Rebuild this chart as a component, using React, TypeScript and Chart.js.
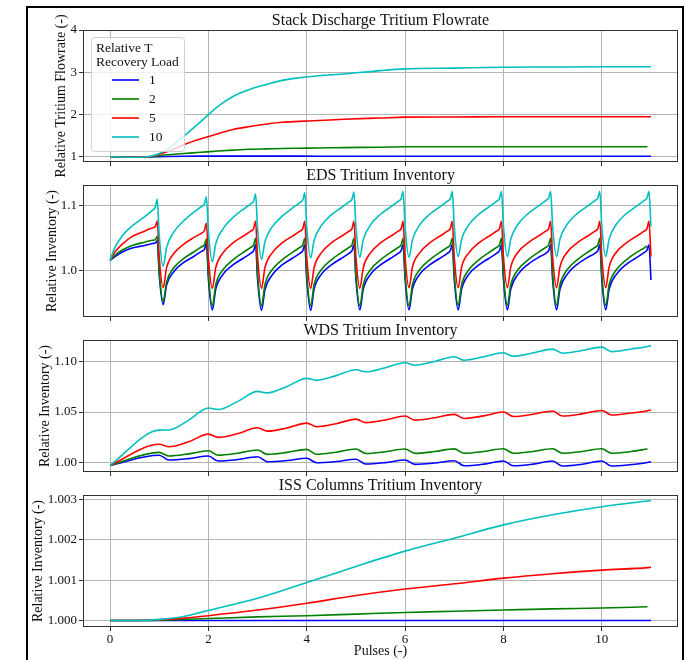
import React, { useEffect, useRef } from "react";
import { Chart, registerables } from "chart.js";

Chart.register(...registerables);

const SERIF = '"Liberation Serif", "Times New Roman", serif';

// ---------- series meta ----------
const seriesLabels = ["1", "2", "5", "10"];
const seriesColors = ["#0000ff", "#008000", "#ff0000", "#00bfbf"];
const legendTitle = ["Relative T", "Recovery Load"];
const xTitle = "Pulses (-)";

// ---------- panel 1: Stack Discharge Tritium Flowrate ----------
const flowPulses = [0, 0.5, 0.8, 1.15, 1.5, 1.85, 2.2, 2.5, 2.85, 3.2, 3.5, 3.85, 4.25, 4.75, 5.5, 6, 7, 8, 9, 10, 10.93, 11];
const flowBlue = [1.0, 0.998, 1.002, 1.01, 1.015, 1.018, 1.02, 1.02, 1.02, 1.02, 1.02, 1.018, 1.017, 1.016, 1.015, 1.015, 1.015, 1.015, 1.015, 1.015, 1.015, 1.015];
const flowGreen = [1.0, 0.997, 1.004, 1.05, 1.08, 1.11, 1.14, 1.16, 1.18, 1.19, 1.2, 1.205, 1.21, 1.22, 1.23, 1.24, 1.24, 1.24, 1.24, 1.24, 1.24, null];
const flowRed = [1.0, 0.995, 1.005, 1.12, 1.29, 1.43, 1.55, 1.65, 1.72, 1.78, 1.82, 1.84, 1.86, 1.89, 1.92, 1.94, 1.945, 1.95, 1.95, 1.95, 1.95, 1.95];
const flowCyan = [1.0, 0.993, 1.01, 1.17, 1.49, 1.84, 2.2, 2.43, 2.6, 2.72, 2.81, 2.87, 2.92, 2.96, 3.04, 3.08, 3.1, 3.12, 3.125, 3.13, 3.13, 3.13];

// ---------- panel 2: EDS Tritium Inventory ----------
const edsPulses = [
  0, 0.1, 0.25, 0.45, 0.7, 0.86, 0.92, 0.96,
  1, 1.08, 1.15, 1.3, 1.5, 1.7, 1.86, 1.92, 1.96,
  2, 2.08, 2.15, 2.3, 2.5, 2.7, 2.86, 2.92, 2.96,
  3, 3.08, 3.15, 3.3, 3.5, 3.7, 3.86, 3.92, 3.96,
  4, 4.08, 4.15, 4.3, 4.5, 4.7, 4.86, 4.92, 4.96,
  5, 5.08, 5.15, 5.3, 5.5, 5.7, 5.86, 5.92, 5.96,
  6, 6.08, 6.15, 6.3, 6.5, 6.7, 6.86, 6.92, 6.96,
  7, 7.08, 7.15, 7.3, 7.5, 7.7, 7.86, 7.92, 7.96,
  8, 8.08, 8.15, 8.3, 8.5, 8.7, 8.86, 8.92, 8.96,
  9, 9.08, 9.15, 9.3, 9.5, 9.7, 9.86, 9.92, 9.96,
  10, 10.08, 10.15, 10.3, 10.5, 10.7, 10.86, 10.92, 10.96,
  11,
];
const edsBlue = [
  1.016, 1.022, 1.029, 1.035, 1.039, 1.042, 1.043, 1.046,
  0.994, 0.948, 0.978, 0.999, 1.013, 1.022, 1.030, 1.033, 1.043,
  0.988, 0.940, 0.972, 0.995, 1.009, 1.019, 1.027, 1.031, 1.040,
  0.987, 0.939, 0.971, 0.994, 1.009, 1.019, 1.027, 1.031, 1.040,
  0.987, 0.939, 0.972, 0.995, 1.009, 1.019, 1.027, 1.031, 1.040,
  0.987, 0.940, 0.972, 0.995, 1.009, 1.019, 1.027, 1.031, 1.040,
  0.987, 0.940, 0.972, 0.995, 1.009, 1.019, 1.027, 1.031, 1.040,
  0.987, 0.940, 0.972, 0.995, 1.009, 1.019, 1.027, 1.031, 1.040,
  0.987, 0.940, 0.972, 0.995, 1.010, 1.020, 1.027, 1.031, 1.040,
  0.987, 0.940, 0.972, 0.995, 1.010, 1.020, 1.027, 1.031, 1.040,
  0.987, 0.940, 0.972, 0.995, 1.010, 1.020, 1.028, 1.032, 1.040,
  0.986,
];
const edsGreen = [
  1.016, 1.024, 1.032, 1.039, 1.044, 1.047, 1.048, 1.053,
  1.000, 0.953, 0.983, 1.005, 1.019, 1.029, 1.037, 1.040, 1.049,
  0.994, 0.946, 0.979, 1.002, 1.017, 1.028, 1.036, 1.040, 1.050,
  0.995, 0.946, 0.979, 1.002, 1.017, 1.028, 1.036, 1.040, 1.050,
  0.995, 0.946, 0.979, 1.002, 1.017, 1.028, 1.036, 1.040, 1.050,
  0.995, 0.946, 0.979, 1.002, 1.017, 1.028, 1.036, 1.040, 1.050,
  0.995, 0.946, 0.979, 1.002, 1.017, 1.028, 1.036, 1.040, 1.050,
  0.995, 0.947, 0.979, 1.002, 1.017, 1.028, 1.036, 1.040, 1.050,
  0.995, 0.947, 0.979, 1.002, 1.017, 1.028, 1.036, 1.040, 1.050,
  0.995, 0.947, 0.979, 1.002, 1.017, 1.028, 1.036, 1.040, 1.050,
  0.995, 0.947, 0.979, 1.002, 1.017, 1.028, 1.035, 1.038, null,
  null,
];
const edsRed = [
  1.016, 1.029, 1.041, 1.053, 1.061, 1.066, 1.068, 1.077,
  1.022, 0.974, 1.005, 1.027, 1.041, 1.051, 1.058, 1.062, 1.073,
  1.020, 0.973, 1.005, 1.028, 1.043, 1.053, 1.061, 1.065, 1.076,
  1.021, 0.973, 1.005, 1.028, 1.043, 1.053, 1.061, 1.065, 1.076,
  1.021, 0.973, 1.005, 1.028, 1.043, 1.053, 1.061, 1.065, 1.076,
  1.021, 0.973, 1.005, 1.028, 1.043, 1.053, 1.061, 1.065, 1.076,
  1.021, 0.974, 1.006, 1.028, 1.043, 1.053, 1.061, 1.065, 1.076,
  1.021, 0.974, 1.006, 1.028, 1.043, 1.053, 1.061, 1.065, 1.076,
  1.022, 0.974, 1.006, 1.029, 1.043, 1.053, 1.061, 1.065, 1.076,
  1.022, 0.974, 1.006, 1.029, 1.043, 1.053, 1.061, 1.065, 1.076,
  1.022, 0.974, 1.006, 1.029, 1.043, 1.053, 1.061, 1.065, 1.076,
  1.022,
];
const edsCyan = [
  1.016, 1.036, 1.054, 1.069, 1.083, 1.093, 1.098, 1.110,
  1.055, 1.007, 1.036, 1.060, 1.077, 1.090, 1.099, 1.103, 1.114,
  1.061, 1.014, 1.042, 1.065, 1.082, 1.094, 1.103, 1.107, 1.118,
  1.065, 1.018, 1.045, 1.068, 1.084, 1.096, 1.105, 1.109, 1.120,
  1.067, 1.020, 1.047, 1.070, 1.086, 1.097, 1.106, 1.110, 1.121,
  1.068, 1.021, 1.048, 1.071, 1.087, 1.098, 1.107, 1.111, 1.122,
  1.068, 1.021, 1.048, 1.071, 1.087, 1.098, 1.107, 1.111, 1.122,
  1.068, 1.022, 1.049, 1.071, 1.087, 1.098, 1.107, 1.111, 1.122,
  1.069, 1.022, 1.049, 1.072, 1.088, 1.099, 1.108, 1.112, 1.122,
  1.069, 1.022, 1.049, 1.072, 1.088, 1.099, 1.108, 1.112, 1.122,
  1.069, 1.022, 1.049, 1.072, 1.088, 1.099, 1.108, 1.112, 1.122,
  1.068,
];

// ---------- panel 3: WDS Tritium Inventory ----------
const wdsPulses = [0, 1, 1.2, 1.6, 2, 2.2, 2.6, 3, 3.2, 3.6, 4, 4.2, 4.6, 5, 5.2, 5.6, 6, 6.2, 6.6, 7, 7.2, 7.6, 8, 8.2, 8.6, 9, 9.2, 9.6, 10, 10.2, 10.6, 10.93, 11];
const wdsBlue = [0.997, 1.007, 1.0023, 1.0037, 1.0063, 1.0013, 1.0028, 1.0056, 1.0006, 1.0018, 1.004, 0.9996, 1.0008, 1.003, 0.9983, 0.9997, 1.0023, 0.998, 0.9993, 1.0016, 0.9966, 0.9982, 1.0013, 0.9966, 0.9982, 1.0013, 0.9963, 0.9981, 1.0013, 0.9963, 0.9978, 0.9998, 1.0006];
const wdsGreen = [0.997, 1.0099, 1.0063, 1.0084, 1.0115, 1.007, 1.0091, 1.0122, 1.0079, 1.0099, 1.0129, 1.008, 1.0101, 1.0132, 1.0088, 1.0106, 1.0133, 1.0089, 1.0107, 1.0134, 1.009, 1.0108, 1.0135, 1.009, 1.0108, 1.0135, 1.009, 1.0108, 1.0135, 1.009, 1.0108, 1.0132, null];
const wdsRed = [0.997, 1.018, 1.0155, 1.0205, 1.028, 1.0248, 1.0286, 1.0344, 1.031, 1.0342, 1.039, 1.0354, 1.0384, 1.043, 1.0395, 1.0421, 1.046, 1.042, 1.0443, 1.0477, 1.0436, 1.0462, 1.05, 1.0456, 1.0478, 1.051, 1.046, 1.0482, 1.0516, 1.047, 1.049, 1.0512, 1.052];
const wdsCyan = [0.997, 1.032, 1.0322, 1.042, 1.054, 1.0525, 1.0606, 1.0705, 1.069, 1.0755, 1.0835, 1.0815, 1.0862, 1.092, 1.09, 1.0941, 1.099, 1.0965, 1.1003, 1.105, 1.1015, 1.1049, 1.109, 1.1055, 1.1087, 1.1125, 1.1085, 1.1112, 1.1145, 1.11, 1.1127, 1.1152, 1.116];

// ---------- panel 4: ISS Columns Tritium Inventory ----------
const issPulses = [0, 0.5, 1, 1.5, 2, 3, 4, 5, 6, 7, 8, 9, 10, 10.93, 11];
const issBlue = [1.0, 1.0, 1.0, 1.0, 1.0, 1.0, 1.0, 1.0, 1.0, 1.0, 1.0, 1.0, 1.0, 1.0, 1.0];
const issGreen = [1.0, 1.0, 1.00001, 1.00003, 1.00005, 1.00009, 1.00012, 1.00016, 1.0002, 1.00023, 1.00026, 1.00029, 1.00031, 1.00034, null];
const issRed = [1.0, 1.0, 1.00002, 1.00006, 1.00012, 1.00026, 1.00043, 1.00062, 1.00078, 1.00091, 1.00105, 1.00116, 1.00125, 1.00131, 1.00132];
const issCyan = [1.0, 1.0, 1.00003, 1.0001, 1.00025, 1.00055, 1.00094, 1.00134, 1.00172, 1.00204, 1.00237, 1.00262, 1.00282, 1.00296, 1.00297];

// ---------- panel layout specs ----------
type PanelSpec = {
  title: string;
  yLabel: string;
  pulses: number[];
  series: (number | null)[][];
  yMin: number;
  yMax: number;
  yStep: number;
  yDecimals: number;
  top: number;
  height: number;
  padLeft: number;
  padBottom: number;
  xAxisHeight: number;
  showX: boolean;
  legend: boolean;
};

const panels: PanelSpec[] = [
  {
    title: "Stack Discharge Tritium Flowrate",
    yLabel: "Relative Tritium Flowrate (-)",
    pulses: flowPulses,
    series: [flowBlue, flowGreen, flowRed, flowCyan],
    yMin: 0.88, yMax: 4.0, yStep: 1, yDecimals: 0,
    top: 8, height: 170, padLeft: 53, padBottom: 8, xAxisHeight: 8, showX: false, legend: true,
  },
  {
    title: "EDS Tritium Inventory",
    yLabel: "Relative Inventory (-)",
    pulses: edsPulses,
    series: [edsBlue, edsGreen, edsRed, edsCyan],
    yMin: 0.929, yMax: 1.132, yStep: 0.1, yDecimals: 1,
    top: 163, height: 170, padLeft: 44, padBottom: 8, xAxisHeight: 8, showX: false, legend: false,
  },
  {
    title: "WDS Tritium Inventory",
    yLabel: "Relative Inventory (-)",
    pulses: wdsPulses,
    series: [wdsBlue, wdsGreen, wdsRed, wdsCyan],
    yMin: 0.9904, yMax: 1.1216, yStep: 0.05, yDecimals: 2,
    top: 318, height: 170, padLeft: 37, padBottom: 8, xAxisHeight: 8, showX: false, legend: false,
  },
  {
    title: "ISS Columns Tritium Inventory",
    yLabel: "Relative Inventory (-)",
    pulses: issPulses,
    series: [issBlue, issGreen, issRed, issCyan],
    yMin: 0.99984, yMax: 1.00311, yStep: 0.001, yDecimals: 3,
    top: 473, height: 187, padLeft: 30, padBottom: 0, xAxisHeight: 33, showX: true, legend: false,
  },
];

const AREA_LEFT = 83;
const AREA_RIGHT_PAD = 8;
const TEXT = "#111111";
const GRID = "#b4b4b4";
const SPINE = "#333333";

const framePlugin = {
  id: "frame",
  afterDraw(chart: any, _args: any, opts: any) {
    const { ctx, chartArea: a } = chart;
    ctx.save();
    ctx.strokeStyle = SPINE;
    ctx.lineWidth = 1;
    ctx.strokeRect(Math.round(a.left) + 0.5, Math.round(a.top) + 0.5, Math.round(a.right - a.left) - 1, Math.round(a.bottom - a.top) - 1);
    ctx.fillStyle = TEXT;
    ctx.font = `16px ${SERIF}`;
    ctx.textAlign = "center";
    ctx.textBaseline = "middle";
    ctx.fillText(opts.title, (a.left + a.right) / 2, a.top - 9.5);
    if (opts.legend) {
      const x = Math.round(a.left) + 8;
      const y = Math.round(a.top) + 7;
      const w = 93;
      const h = 114;
      ctx.beginPath();
      ctx.roundRect(x + 0.5, y + 0.5, w, h, 3);
      ctx.fillStyle = "rgba(255,255,255,0.8)";
      ctx.fill();
      ctx.strokeStyle = "#d0d0d0";
      ctx.stroke();
      ctx.fillStyle = TEXT;
      ctx.font = `13.5px ${SERIF}`;
      ctx.textAlign = "left";
      legendTitle.forEach((t, i) => ctx.fillText(t, x + 5, y + 11 + i * 14));
      chart.data.datasets.forEach((ds: any, i: number) => {
        const yy = y + 43 + i * 19;
        ctx.strokeStyle = ds.borderColor;
        ctx.lineWidth = 1.6;
        ctx.beginPath();
        ctx.moveTo(x + 21, yy);
        ctx.lineTo(x + 48, yy);
        ctx.stroke();
        ctx.fillStyle = TEXT;
        ctx.fillText(ds.label, x + 58, yy);
      });
    }
    ctx.restore();
  },
};

function buildConfig(p: PanelSpec): any {
  return {
    type: "line",
    data: {
      datasets: p.series.map((vals, i) => ({
        label: seriesLabels[i],
        data: p.pulses.map((x, j) => ({ x, y: vals[j] })),
        borderColor: seriesColors[i],
        backgroundColor: seriesColors[i],
        borderWidth: 1.6,
        pointRadius: 0,
        fill: false,
        cubicInterpolationMode: "monotone",
        spanGaps: false,
        order: 4 - i,
      })),
    },
    options: {
      animation: false,
      responsive: false,
      maintainAspectRatio: false,
      devicePixelRatio: 1,
      events: [],
      layout: { padding: { left: p.padLeft, right: AREA_RIGHT_PAD, top: 22, bottom: p.padBottom } },
      plugins: {
        legend: { display: false },
        tooltip: { enabled: false },
        title: { display: false },
        frame: { title: p.title, legend: p.legend },
      },
      scales: {
        x: {
          type: "linear",
          min: -0.55,
          max: 11.55,
          border: { display: false },
          grid: { color: GRID, lineWidth: 1, tickColor: SPINE, tickLength: 4, drawTicks: true },
          ticks: {
            display: p.showX,
            stepSize: 2,
            includeBounds: false,
            autoSkip: false,
            maxRotation: 0,
            padding: 1,
            color: TEXT,
            font: { family: SERIF, size: 13 },
            callback: (v: any) => String(v),
          },
          title: { display: p.showX, text: xTitle, color: TEXT, font: { family: SERIF, size: 14 }, padding: 0 },
          afterFit: (s: any) => {
            s.height = p.xAxisHeight;
          },
        },
        y: {
          type: "linear",
          min: p.yMin,
          max: p.yMax,
          border: { display: false },
          grid: { color: GRID, lineWidth: 1, tickColor: SPINE, tickLength: 4, drawTicks: true },
          ticks: {
            stepSize: p.yStep,
            includeBounds: false,
            autoSkip: false,
            padding: 2,
            color: TEXT,
            font: { family: SERIF, size: 13 },
            callback: (v: any) => Number(v).toFixed(p.yDecimals),
          },
          title: { display: true, text: p.yLabel, color: TEXT, font: { family: SERIF, size: 14 }, padding: 0 },
          afterFit: (s: any) => {
            s.width = AREA_LEFT - p.padLeft;
          },
        },
      },
    },
    plugins: [framePlugin],
  };
}

function Panel({ spec }: { spec: PanelSpec }) {
  const ref = useRef<HTMLCanvasElement | null>(null);
  useEffect(() => {
    if (!ref.current) return;
    const chart = new Chart(ref.current, buildConfig(spec));
    return () => chart.destroy();
  }, [spec]);
  return (
    <canvas
      ref={ref}
      width={686}
      height={spec.height}
      style={{ position: "absolute", left: 0, top: spec.top, width: 686, height: spec.height, display: "block" }}
    />
  );
}

export default function App() {
  return (
    <div style={{ position: "absolute", left: 0, top: 0, width: 686, height: 660, overflow: "hidden", background: "#ffffff" }}>
      <div
        style={{
          position: "absolute",
          left: 26,
          top: 6,
          width: 658,
          height: 660,
          borderLeft: "2px solid #000",
          borderTop: "2px solid #000",
          borderRight: "2px solid #000",
          boxSizing: "border-box",
        }}
      />
      {panels.map((p) => (
        <Panel key={p.title} spec={p} />
      ))}
    </div>
  );
}
